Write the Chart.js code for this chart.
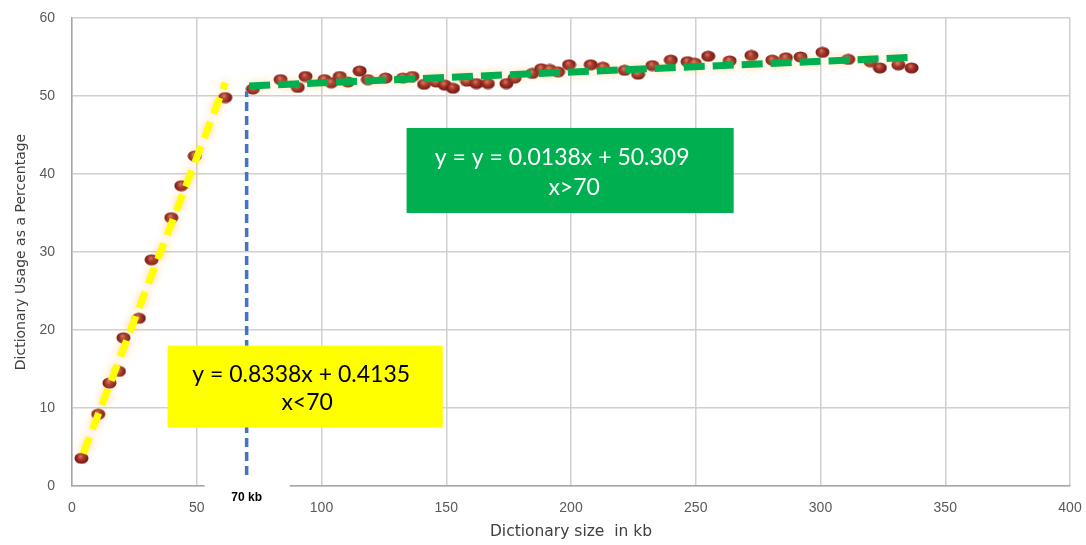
<!DOCTYPE html>
<html>
<head>
<meta charset="utf-8">
<script src="https://cdn.jsdelivr.net/npm/chart.js@4.4.1/dist/chart.umd.min.js"></script>
<style>
  html, body { margin: 0; padding: 0; background: #ffffff; }
  #wrap { width: 1086px; height: 545px; position: relative; }
</style>
</head>
<body>
<div id="wrap"><canvas id="chart" width="1086" height="545"></canvas></div>
<script>
// Dictionary size (kb) and the share of the dictionary in use (%)
const kbSizes = [3.8, 10.5, 15, 18.8, 20.6, 26.8, 31.9, 39.8, 43.8, 49.2, 61.4, 72.5,
  83.6, 90.5, 93.6, 101.2, 103.9, 107.3, 110.6, 115.3, 118.6, 125.7, 132.6, 136.4,
  141.1, 146, 149.4, 152.7, 158.3, 162.1, 166.7, 174.1, 177.4, 184.5, 188.1, 191.5,
  194.8, 199.2, 207.9, 212.8, 221.5, 226.9, 232.6, 240, 246.7, 249.6, 255, 263.6,
  272.3, 280.7, 286.1, 292, 300.8, 311.1, 320, 323.8, 331.2, 336.5];
const usagePct = [3.55, 9.2, 13.2, 14.7, 19.0, 21.5, 29.0, 34.4, 38.5, 42.3, 49.8, 50.9,
  52.1, 51.1, 52.5, 52.1, 51.7, 52.5, 51.8, 53.2, 52.1, 52.3, 52.3, 52.5,
  51.5, 51.8, 51.4, 51.0, 51.9, 51.6, 51.6, 51.6, 52.3, 52.9, 53.5, 53.4,
  53.1, 54.0, 54.0, 53.7, 53.3, 52.8, 53.9, 54.6, 54.4, 54.2, 55.1, 54.5,
  55.2, 54.6, 54.9, 55.0, 55.6, 54.7, 54.4, 53.6, 54.0, 53.6];

// Fitted segments (end points lie on the fitted equations)
const lowFitX = [4.5, 61.5];
const lowFitY = [4.17, 51.69];
const highFitX = [71, 336];
const highFitY = [51.29, 54.95];

// Break point marker
const breakX = [70, 70];
const breakY = [1.4, 50.6];
const breakLabel = '70 kb';

// Equation captions
const lowFitText = ['y = 0.8338x + 0.4135', 'x<70'];
const highFitText = ['y = y = 0.0138x + 50.309', 'x>70'];

// Axis ticks
const xTicks = [0, 50, 100, 150, 200, 250, 300, 350, 400];
const yTicks = [0, 10, 20, 30, 40, 50, 60];

const toXY = (xs, ys) => xs.map((x, i) => ({ x: x, y: ys[i] }));

// Shaded dark-red bead used for the measured points
function makeBead() {
  const w = 15, h = 12;
  const c = document.createElement('canvas');
  c.width = w; c.height = h;
  const g = c.getContext('2d');
  const grad = g.createRadialGradient(w * 0.42, h * 0.35, 0.5, w / 2, h / 2, w / 2);
  grad.addColorStop(0, '#d06a5e');
  grad.addColorStop(0.35, '#a0322a');
  grad.addColorStop(0.8, '#7a1812');
  grad.addColorStop(1, '#5c0e0a');
  g.fillStyle = grad;
  g.beginPath();
  g.ellipse(w / 2, h / 2, w / 2 - 0.5, h / 2 - 0.5, 0, 0, Math.PI * 2);
  g.fill();
  return c;
}
const bead = makeBead();

// Soft glow behind the fitted segments
const glowPlugin = {
  id: 'glow',
  beforeDatasetDraw(chart, args) {
    const ds = chart.data.datasets[args.index];
    if (ds.glow) {
      chart.ctx.save();
      chart.ctx.shadowColor = ds.glow;
      chart.ctx.shadowBlur = 9;
    }
  },
  afterDatasetDraw(chart, args) {
    const ds = chart.data.datasets[args.index];
    if (ds.glow) chart.ctx.restore();
  }
};

// Equation boxes and the break-point caption
const notesPlugin = {
  id: 'notes',
  afterDraw(chart) {
    const ctx = chart.ctx;
    const xs = chart.scales.x, ys = chart.scales.y;
    const box = (x0, x1, y0, y1, fill, color, lines, cxOff) => {
      const l = xs.getPixelForValue(x0), r = xs.getPixelForValue(x1);
      const t = ys.getPixelForValue(y0), b = ys.getPixelForValue(y1);
      ctx.save();
      ctx.fillStyle = fill;
      ctx.fillRect(l, t, r - l, b - t);
      ctx.fillStyle = color;
      ctx.font = '23px Lato, "Open Sans", sans-serif';
      ctx.textAlign = 'center';
      ctx.textBaseline = 'middle';
      const cx = (l + r) / 2;
      ctx.fillText(lines[0], cx + cxOff[0], t + (b - t) * 0.35);
      ctx.fillText(lines[1], cx + cxOff[1], t + (b - t) * 0.7);
      ctx.restore();
    };
    box(134.1, 265.2, 45.9, 35.0, '#00b050', '#ffffff', highFitText, [-8, 4]);
    box(38.3, 148.6, 18.0, 7.5, '#ffff00', '#000000', lowFitText, [-4, 2]);

    // White patch over the axis carrying the break-point caption
    const bx = xs.getPixelForValue(breakX[0]);
    const base = ys.getPixelForValue(0);
    ctx.save();
    ctx.fillStyle = '#ffffff';
    ctx.fillRect(bx - 42, base - 1, 85, 34);
    ctx.fillStyle = '#000000';
    ctx.font = 'bold 12px "Liberation Sans", Arial, sans-serif';
    ctx.textAlign = 'center';
    ctx.textBaseline = 'middle';
    ctx.fillText(breakLabel, bx, base + 12);
    ctx.restore();
  }
};

new Chart(document.getElementById('chart'), {
  type: 'scatter',
  data: {
    datasets: [
      {
        label: 'Low fit',
        type: 'line',
        data: toXY(lowFitX, lowFitY),
        borderColor: '#ffff00',
        borderWidth: 7,
        borderDash: [17, 9],
        pointRadius: 0,
        glow: 'rgba(255,190,90,0.7)',
        order: 0
      },
      {
        label: 'High fit',
        type: 'line',
        data: toXY(highFitX, highFitY),
        borderColor: '#00b050',
        borderWidth: 7,
        borderDash: [21, 8],
        pointRadius: 0,
        glow: 'rgba(255,200,110,0.6)',
        order: 0
      },
      {
        label: 'Break',
        type: 'line',
        data: toXY(breakX, breakY),
        borderColor: '#4472c4',
        borderWidth: 3.5,
        borderDash: [9, 5],
        pointRadius: 0,
        order: 0
      },
      {
        label: 'Usage',
        data: toXY(kbSizes, usagePct),
        pointStyle: bead,
        pointRadius: 6,
        pointHoverRadius: 6,
        order: 2
      }
    ]
  },
  options: {
    responsive: false,
    animation: false,
    devicePixelRatio: 1,
    layout: { padding: { top: 18, right: 16, left: 9, bottom: 0 } },
    plugins: {
      legend: { display: false },
      tooltip: { enabled: false }
    },
    scales: {
      x: {
        type: 'linear',
        min: 0, max: 400,
        afterBuildTicks(s) { s.ticks = xTicks.map(v => ({ value: v })); },
        afterFit(s) { s.height = 59; s.paddingLeft = 0; s.paddingRight = 0; },
        grid: { color: '#d0d0d0', lineWidth: 1.5, drawTicks: false },
        border: { color: '#a6a6a6', width: 1.5 },
        ticks: { color: '#595959', padding: 14, font: { family: '"Liberation Sans", Arial, sans-serif', size: 14 } },
        title: {
          display: true,
          text: 'Dictionary size  in kb',
          color: '#404040',
          padding: { top: 5 },
          font: { family: '"DejaVu Sans", sans-serif', size: 15.5 }
        }
      },
      y: {
        type: 'linear',
        min: 0, max: 60,
        afterBuildTicks(s) { s.ticks = yTicks.map(v => ({ value: v })); },
        afterFit(s) { s.width = 63; s.paddingTop = 0; s.paddingBottom = 0; },
        grid: { color: '#d0d0d0', lineWidth: 1.5, drawTicks: false },
        border: { color: '#a6a6a6', width: 1.5 },
        ticks: { color: '#595959', padding: 17, font: { family: '"Liberation Sans", Arial, sans-serif', size: 14 } },
        title: {
          display: true,
          text: 'Dictionary Usage as a Percentage',
          color: '#404040',
          padding: { bottom: 0 },
          font: { family: '"DejaVu Sans", sans-serif', size: 14 }
        }
      }
    }
  },
  plugins: [glowPlugin, notesPlugin]
});
</script>
</body>
</html>
